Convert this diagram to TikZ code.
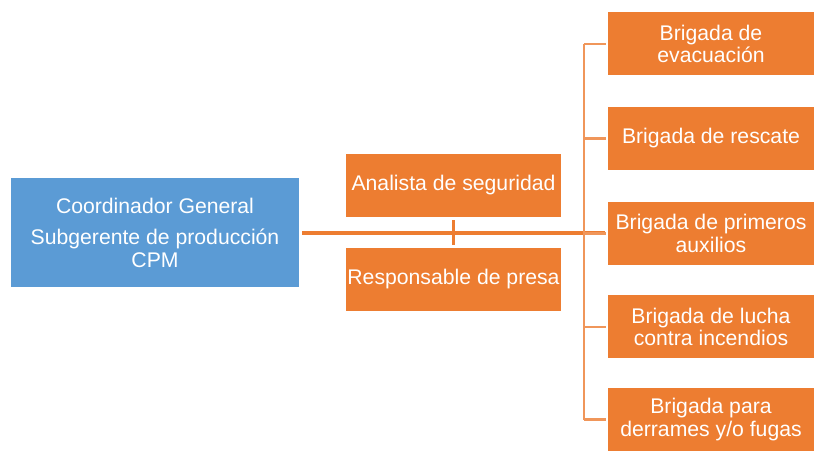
\documentclass[tikz,border=0pt]{standalone}
\usepackage{fontspec}
\setmainfont{Liberation Sans}
\definecolor{orgbox}{HTML}{ED7D31}
\definecolor{bluebox}{HTML}{5B9BD5}
\definecolor{brk}{HTML}{F0965A}
\begin{document}
\begin{tikzpicture}[x=1pt,y=1pt,
  box/.style={rectangle, fill=orgbox, draw=none, text=white, align=center, inner sep=0pt,
    font=\fontsize{21.2}{22.5}\selectfont},
  rbox/.style={box, minimum width=206pt, minimum height=63pt},
  mbox/.style={box, minimum width=215pt, minimum height=63pt},
  mainline/.style={draw=orgbox, line width=4pt},
  brkline/.style={draw=brk, line width=2.5pt},
  tickline/.style={draw=orgbox, line width=2.5pt}]
\useasboundingbox (0,0) rectangle (814,450);
\node[box, fill=bluebox, minimum width=288pt, minimum height=109pt] (coord) at (155,217.5)
  {Coordinador General\\[9pt]Subgerente de producción\\CPM};
\node[mbox] (ana) at (453.5,264.5) {Analista de seguridad};
\node[mbox] (resp) at (453.5,170.5) {Responsable de presa};
\node[rbox] (b1) at (711,406) {Brigada de\\evacuación};
\node[rbox] (b2) at (711,311.5) {Brigada de rescate};
\node[rbox] (b3) at (711,216.5) {Brigada de primeros\\auxilios};
\node[rbox] (b4) at (711,123) {Brigada de lucha\\contra incendios};
\node[rbox] (b5) at (711,30.5) {Brigada para\\derrames y/o fugas};
\coordinate (bt) at (584,406);
\coordinate (bb) at (584,30.5);
\draw[mainline] ([xshift=3pt]coord.east |- 0,217) -- ([xshift=-3pt]b3.west |- 0,217);
\draw[tickline] ([yshift=-3pt]ana.south) -- ([yshift=3pt]resp.north);
\draw[brkline] (bt) -- (bb);
\foreach \b in {b1,b2,b3,b4,b5}{
  \draw[brkline] (bt |- \b.west) -- ([xshift=-2pt]\b.west);
}
\end{tikzpicture}
\end{document}
